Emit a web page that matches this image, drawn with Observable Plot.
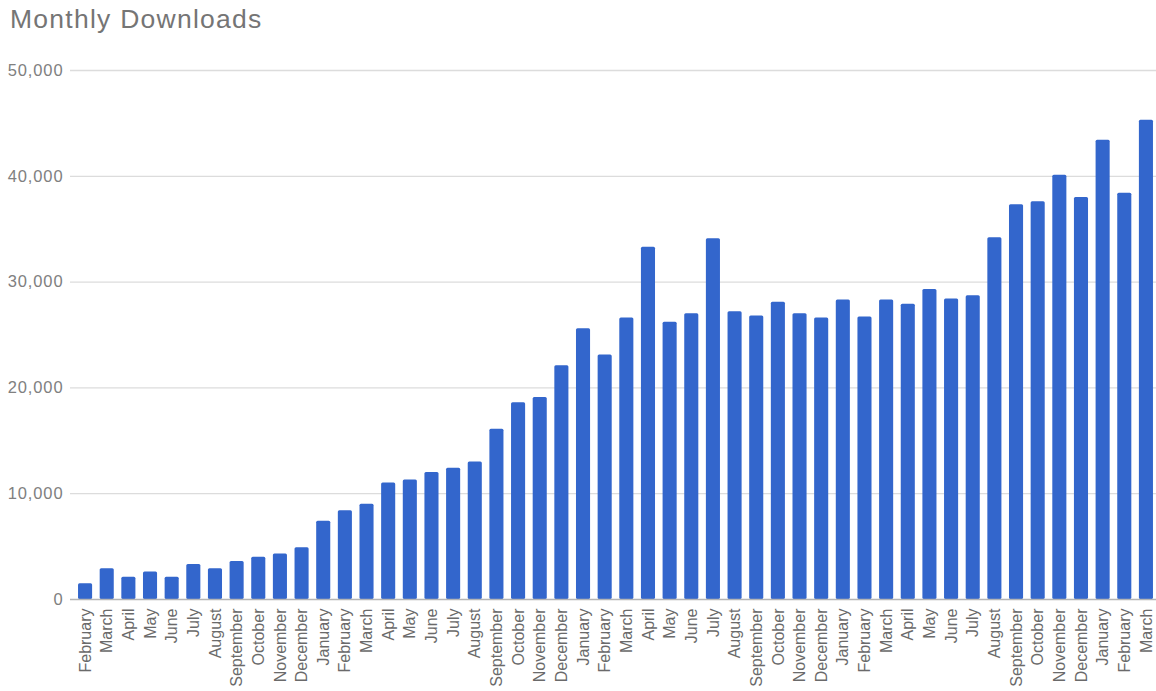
<!DOCTYPE html>
<html>
<head>
<meta charset="utf-8">
<script src="https://cdn.jsdelivr.net/npm/d3@7"></script>
<script src="https://cdn.jsdelivr.net/npm/@observablehq/plot@0.6"></script>
<style>
  html, body { margin: 0; padding: 0; background: #fff; overflow: hidden; }
  #title { height: 40px; padding-left: 10px; font: 26.5px "Liberation Sans", Arial, sans-serif; letter-spacing: 1.25px; line-height: 38px; color: #757575; white-space: nowrap; }
</style>
</head>
<body>
<div id="title">Monthly Downloads</div>
<div id="chart"></div>
<script>
const months = [
  "February","March","April","May","June","July","August","September","October","November","December",
  "January","February","March","April","May","June","July","August","September","October","November","December",
  "January","February","March","April","May","June","July","August","September","October","November","December",
  "January","February","March","April","May","June","July","August","September","October","November","December",
  "January","February","March"
];
const downloads = [
  1500, 2900, 2100, 2600, 2100, 3300, 2900, 3600, 4000, 4300, 4900,
  7400, 8400, 9000, 11000, 11300, 12000, 12400, 13000, 16100, 18600, 19100, 22100,
  25600, 23100, 26600, 33300, 26200, 27000, 34100, 27200, 26800, 28100, 27000, 26600,
  28300, 26700, 28300, 27900, 29300, 28400, 28700, 34200, 37300, 37600, 40100, 38000,
  43400, 38400, 45300
];
const yTicks = [0, 10000, 20000, 30000, 40000, 50000];

const data = downloads.map((v, i) => ({i, month: months[i], value: v}));
const fmt = d3.format(",");

const chart = Plot.plot({
  width: 1156,
  height: 651,
  marginTop: 30,
  marginBottom: 92,
  marginLeft: 75,
  marginRight: 0,
  style: {fontFamily: "'Liberation Sans', Arial, sans-serif", fontSize: "16px", color: "#6e6e6e", background: "#fff"},
  x: {domain: d3.range(downloads.length), paddingInner: 0.35, paddingOuter: 0.14, label: null},
  y: {domain: [0, 50000], label: null},
  marks: [
    Plot.ruleY(yTicks.filter(d => d > 0), {stroke: "#dcdcdc", strokeWidth: 1.3, insetLeft: -5}),
    Plot.barY(data, {x: "i", y: "value", fill: "#3366cc", rx: 1.5}),
    Plot.ruleY([0], {stroke: "#b5b5b5", strokeWidth: 1.5, insetLeft: -5}),
    Plot.axisY({ticks: yTicks, tickFormat: fmt, tickSize: 0, tickPadding: 12, label: null, fill: "#808080", fontSize: 16.5}),
    Plot.axisX({tickFormat: i => months[i], tickRotate: -90, tickSize: 0, tickPadding: 9, label: null, fill: "#6a6a6a", fontSize: 16})
  ]
});
d3.select(chart).selectAll("g[aria-label='y-axis tick label'] text").style("letter-spacing", "0.9px");
document.getElementById("chart").appendChild(chart);
</script>
</body>
</html>
